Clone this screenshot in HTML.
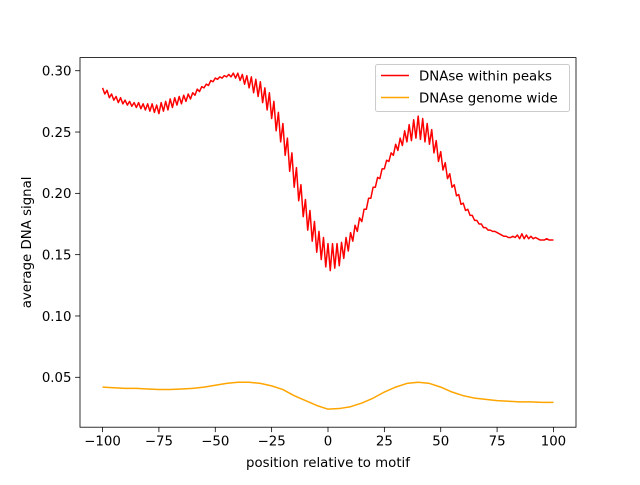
<!DOCTYPE html>
<html><head><meta charset="utf-8"><style>
body{margin:0;background:#fff}
svg text{font-family:"DejaVu Sans","Liberation Sans",sans-serif;fill:#000}
</style></head><body>
<svg id="chart" width="640" height="480" xmlns="http://www.w3.org/2000/svg">
<rect width="640" height="480" fill="#fff"/>
<g id="plot"></g>
</svg>
<script>
const redValues=[
.286,.281,.284,.278,.281,
.276,.279,.274,.278,.273,
.276,.272,.275,.271,.274,
.270,.274,.269,.273,.268,
.273,.267,.273,.266,.272,
.265,.274,.267,.275,.268,
.277,.270,.278,.272,.279,
.273,.280,.275,.281,.277,
.282,.280,.285,.283,.287,
.286,.289,.288,.292,.291,
.294,.293,.295,.294,.296,
.295,.297,.295,.298,.294,
.298,.292,.297,.289,.296,
.286,.295,.282,.293,.279,
.291,.274,.286,.268,.282,
.261,.275,.251,.266,.242,
.257,.231,.245,.218,.233,
.205,.221,.194,.207,.181,
.195,.170,.186,.161,.177,
.152,.169,.146,.164,.140,
.159,.137,.159,.139,.159,
.141,.160,.147,.164,.153,
.168,.161,.174,.169,.180,
.177,.187,.187,.196,.196,
.205,.205,.213,.212,.220,
.220,.227,.226,.233,.231,
.240,.235,.245,.239,.251,
.242,.256,.243,.260,.245,
.263,.244,.261,.242,.257,
.240,.252,.233,.243,.226,
.234,.219,.225,.212,.216,
.205,.207,.198,.199,.191,
.192,.186,.187,.182,.182,
.178,.178,.175,.175,.172,
.172,.170,.170,.169,.169,
.168,.167,.166,.165,.165,
.164,.164,.165,.164,.166,
.163,.167,.163,.166,.163,
.165,.163,.164,.163,.162,
.162,.162,.163,.162,.162,
.162];
const orangePositions=[-100,-95,-90,-85,-80,-75,-70,-65,-60,-55,-50,-45,-40,-35,-30,-25,-20,-15,-10,-5,0,5,10,15,20,25,30,35,40,45,50,55,60,65,70,75,80,85,90,95,100];
const orangeValues=[.042,.0415,.041,.041,.0405,.040,.040,.0405,.041,.042,.0435,.045,.046,.046,.045,.043,.040,.035,.031,.027,.024,.0245,.026,.029,.033,.038,.042,.045,.046,.045,.042,.038,.035,.033,.032,.031,.0305,.030,.030,.0295,.0295];
const xTicks=[-100,-75,-50,-25,0,25,50,75,100];
const yTicks=[0.05,0.10,0.15,0.20,0.25,0.30];
const L=80,R=576,T=57.6,B=427.2;
const xMin=-110,xMax=110,yMin=0.0093,yMax=0.3107;
const sx=v=>L+(v-xMin)/(xMax-xMin)*(R-L);
const sy=v=>B-(v-yMin)/(yMax-yMin)*(B-T);
const NS="http://www.w3.org/2000/svg";
const g=document.getElementById('plot');
function mk(tag,attrs,parent){const e=document.createElementNS(NS,tag);for(const k in attrs)e.setAttribute(k,attrs[k]);(parent||g).appendChild(e);return e;}
let d=redValues.map((v,i)=>(i?'L':'M')+sx(-100+i).toFixed(2)+','+sy(v).toFixed(2)).join('');
let p=mk('path',{d:d,fill:'none',stroke:'#ff0000','stroke-width':1.5,'stroke-linejoin':'round'});


d=orangeValues.map((v,i)=>(i?'L':'M')+sx(orangePositions[i]).toFixed(2)+','+sy(v).toFixed(2)).join('');
p=mk('path',{d:d,fill:'none',stroke:'#ffa500','stroke-width':1.5,'stroke-linejoin':'round'});


let fr=mk('rect',{x:L,y:T,width:R-L,height:B-T,fill:'none',stroke:'#000','stroke-width':0.8});


xTicks.forEach(t=>{
  mk('line',{x1:sx(t),x2:sx(t),y1:B,y2:B+4.9,stroke:'#000','stroke-width':0.8});
  const tx=mk('text',{x:sx(t),y:B+18.5,'text-anchor':'middle','font-size':'13.33px'});
  tx.textContent=String(t).replace('-','\u2212');
  
  
});
yTicks.forEach(t=>{
  mk('line',{x1:L-4.9,x2:L,y1:sy(t),y2:sy(t),stroke:'#000','stroke-width':0.8});
  const tx=mk('text',{x:L-8.5,y:sy(t)+4.8,'text-anchor':'end','font-size':'13.33px'});
  tx.textContent=t.toFixed(2);
  
  
});
let xl=mk('text',{x:(L+R)/2,y:467,'text-anchor':'middle','font-size':'13.33px'});
xl.textContent='position relative to motif';


let yl=mk('text',{x:31,y:(T+B)/2,'text-anchor':'middle','font-size':'13.33px',transform:'rotate(-90 31 '+((T+B)/2)+')'});
yl.textContent='average DNA signal';


let lg=mk('g',{});


mk('rect',{x:375.5,y:64.5,width:194,height:47,rx:2,fill:'#fff',stroke:'#ccc','stroke-width':1},lg);
[['DNAse within peaks','#ff0000',76],['DNAse genome wide','#ffa500',98]].forEach(e=>{
  mk('line',{x1:381,x2:409,y1:e[2]-0.5,y2:e[2]-0.5,stroke:e[1],'stroke-width':1.5},lg);
  const t=mk('text',{x:419,y:e[2]+4.5,'font-size':'13.33px'},lg);
  t.textContent=e[0];
  
  
});
</script>
</body></html>
